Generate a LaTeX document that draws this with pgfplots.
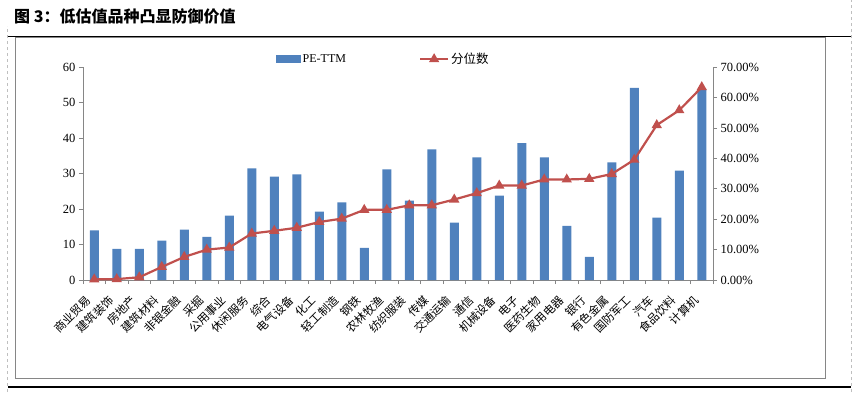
\documentclass[border=0pt]{standalone}
\usepackage{fontspec}
\setmainfont{Liberation Serif}
\newfontfamily\cjk{Noto Sans CJK SC}
\usepackage{pgfplots}
\pgfplotsset{compat=1.18}
\usepackage{pgfplotstable}
\definecolor{barblue}{HTML}{4F81BD}
\definecolor{linered}{HTML}{C0504D}
\definecolor{axgray}{HTML}{868686}

\pgfplotstableread{
x pe pct
0 14.0 0.2
1 8.8 0.3
2 8.8 0.9
3 11.1 4.3
4 14.2 7.6
5 12.2 10.0
6 18.2 10.7
7 31.5 15.3
8 29.2 16.2
9 29.8 17.2
10 19.3 19.1
11 21.9 20.2
12 9.1 23.1
13 31.2 23.1
14 22.4 24.6
15 36.9 24.6
16 16.2 26.5
17 34.6 28.6
18 23.8 31.1
19 38.6 31.1
20 34.6 33.1
21 15.3 33.1
22 6.5 33.3
23 33.2 34.9
24 54.2 39.6
25 17.6 51.0
26 30.9 55.9
27 53.9 63.5
}\datatable

\begin{document}
\begin{tikzpicture}
\useasboundingbox (0pt,0pt) rectangle (858pt,392pt);
\draw[black!25, dashed, line width=0.8pt] (7.5pt,0pt) -- (7.5pt,366pt);
\draw[black!25, dashed, line width=0.8pt] (851pt,0pt) -- (851pt,392pt);
\draw[black, line width=1pt] (8pt,356pt) -- (851pt,356pt);
\draw[black, line width=1.2pt] (8pt,5pt) -- (851pt,5pt);
\draw[axgray, line width=1pt] (15.3pt,13.7pt) rectangle (825.7pt,354.7pt);
\node[anchor=west, inner sep=0pt, font=\cjk\bfseries\fontsize{16}{16}\selectfont] at (14pt,376pt) {图 3：低估值品种凸显防御价值};

\begin{axis}[
  at={(83pt,112pt)}, anchor=south west,
  width=630pt, height=212.6pt, scale only axis,
  xmin=-0.5, xmax=27.5, ymin=0, ymax=60,
  axis x line*=bottom, axis y line*=left,
  axis line style={axgray, line width=0.8pt},
  ytick={0,10,...,60},
  xtick={0,...,27},
  xticklabels={商业贸易,建筑装饰,房地产,建筑材料,非银金融,采掘,公用事业,休闲服务,综合,电气设备,化工,轻工制造,钢铁,农林牧渔,纺织服装,传媒,交通运输,通信,机械设备,电子,医药生物,家用电器,银行,有色金属,国防军工,汽车,食品饮料,计算机},
  minor xtick={-0.5,0.5,...,27.5},
  tick align=outside,
  major tick length=4pt, minor tick length=4pt,
  every major x tick/.style={draw=none},
  tick style={axgray, line width=0.8pt},
  /pgf/number format/assume math mode=true,
  yticklabel style={font=\fontsize{12.5}{12.5}\selectfont, text=black},
  xticklabel style={font=\cjk\fontsize{11.5}{11.5}\selectfont, text=black, inner sep=1pt, xshift=-4.7pt, yshift=-13.2pt, rotate=45, anchor=east},
]
\addplot[ybar, bar width=9pt, fill=barblue, draw=none] table[x=x,y=pe]{\datatable};
\end{axis}

\begin{axis}[
  at={(83pt,112pt)}, anchor=south west,
  width=630pt, height=212.6pt, scale only axis,
  xmin=-0.5, xmax=27.5, ymin=0, ymax=70,
  axis x line=none, axis y line*=right,
  axis line style={axgray, line width=0.8pt},
  ytick={0,10,...,70},
  tick align=outside, major tick length=4pt,
  tick style={axgray, line width=0.8pt},
  /pgf/number format/assume math mode=true,
  yticklabel={\pgfmathprintnumber[fixed,fixed zerofill,precision=2]{\tick}\%},
  yticklabel style={font=\fontsize{12.5}{12.5}\selectfont, text=black},
  legend columns=2,
  legend style={at={(0.477,1.0)}, anchor=south, draw=none, fill=none,
    font=\fontsize{12}{12}\selectfont, inner sep=0pt,
    /tikz/every even column/.append style={column sep=71pt}},
  legend cell align=left,
]
\addlegendimage{legend image code/.code={\fill[barblue] (0pt,-3.5pt) rectangle (24pt,3.5pt);}}
\addlegendentry{PE-TTM}
\addplot[linered, line width=2.2pt, mark=triangle*, mark size=3.8pt,
  legend image code/.code={\draw[mark repeat=2,mark phase=2] plot coordinates {(0pt,0pt) (14pt,0pt) (28pt,0pt)};}]
  table[x=x,y=pct]{\datatable};
\addlegendentry{{\cjk\fontsize{12.5}{12.5}\selectfont 分位数}}
\end{axis}
\end{tikzpicture}
\end{document}
